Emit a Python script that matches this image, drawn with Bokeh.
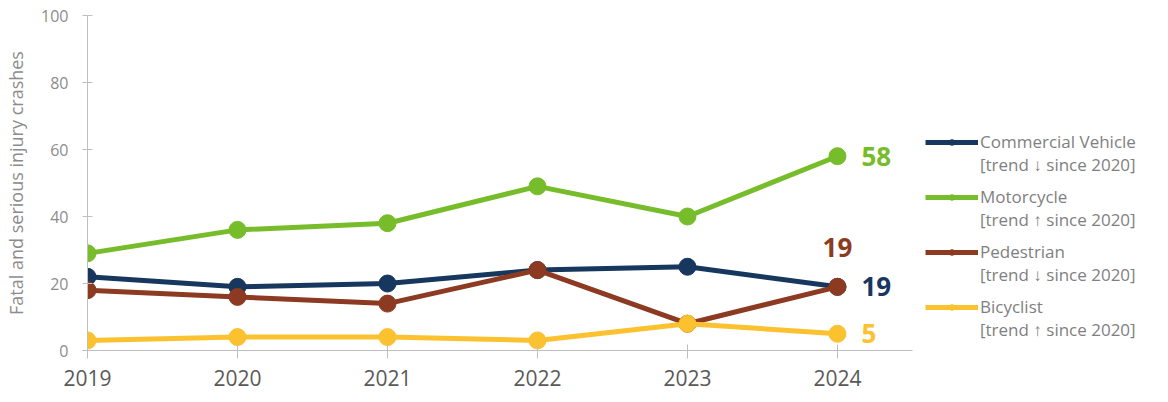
from bokeh.plotting import figure
from bokeh.models import Legend, LegendItem, Range1d, FixedTicker, ColumnDataSource
from bokeh.core.properties import value
from bokeh.embed import file_html
from bokeh.resources import INLINE

years = [2019, 2020, 2021, 2022, 2023, 2024]
commercial = [22, 19, 20, 24, 25, 19]
motorcycle = [29, 36, 38, 49, 40, 58]
pedestrian = [18, 16, 14, 24, 8, 19]
bicyclist = [3, 4, 4, 3, 8, 5]

series_names = ["Commercial Vehicle", "Motorcycle", "Pedestrian", "Bicyclist"]
trend_notes = ["[trend \u2193 since 2020]", "[trend \u2191 since 2020]",
               "[trend \u2193 since 2020]", "[trend \u2191 since 2020]"]
colors = ["#17375e", "#77bc2a", "#8c3a22", "#fbc12f"]
y_ticks = [0, 20, 40, 60, 80, 100]

FONT = "Open Sans"

# frame spans the plot and the legend area; the x axis line is bounded to the data part
p = figure(frame_width=1063, frame_height=335, output_backend="svg", toolbar_location=None,
           x_range=Range1d(2019, 2026.087), y_range=Range1d(0, 100),
           min_border_left=87, min_border_top=15, min_border_bottom=10, min_border_right=0)
p.outline_line_color = None
p.grid.grid_line_color = None
p.background_fill_color = "white"

series = [commercial, motorcycle, pedestrian, bicyclist]
legend_bottoms = [174, 119, 64, 9]
for name, note, vals, col, lb in zip(series_names, trend_notes, series, colors, legend_bottoms):
    src = ColumnDataSource(dict(x=years, y=vals))
    ln = p.line("x", "y", source=src, line_color=col, line_width=5)
    small = p.scatter("x", "y", source=src, size=9, fill_color=col, line_color=col)
    p.scatter("x", "y", source=src, size=17, fill_color=col, line_color=col)
    blank = p.line("x", "y", source=src, line_alpha=0)
    lg = Legend(items=[LegendItem(label=name, renderers=[ln, small]),
                       LegendItem(label=note, renderers=[blank])],
                location=(838, lb), orientation="vertical")
    lg.border_line_color = None
    lg.background_fill_alpha = 0
    lg.label_text_font = FONT
    lg.label_text_font_size = "17px"
    lg.label_text_color = "#7f7f7f"
    lg.label_height = 14
    lg.glyph_width = 53
    lg.glyph_height = 14
    lg.spacing = 0
    lg.padding = 0
    lg.margin = 0
    lg.label_standoff = 2
    p.add_layout(lg)

# end labels
lab_font = value(FONT)
common = dict(text_font=lab_font, text_font_size="26px", text_font_style="bold",
              text_baseline="middle")
p.text(x=[years[-1]], y=[motorcycle[-1]], text=[str(motorcycle[-1])], x_offset=24,
       text_color=colors[1], text_align="left", **common)
p.text(x=[years[-1]], y=[commercial[-1]], text=[str(commercial[-1])], x_offset=24,
       text_color=colors[0], text_align="left", **common)
p.text(x=[years[-1]], y=[pedestrian[-1]], text=[str(pedestrian[-1])], y_offset=-39,
       text_color=colors[2], text_align="center", **common)
p.text(x=[years[-1]], y=[bicyclist[-1]], text=[str(bicyclist[-1])], x_offset=24,
       text_color=colors[3], text_align="left", **common)

# axes
p.xaxis.ticker = FixedTicker(ticks=years)
p.xaxis.bounds = (2019, 2024.5)
p.yaxis.ticker = FixedTicker(ticks=y_ticks)
for ax in (p.xaxis, p.yaxis):
    ax.axis_line_color = "#bfbfbf"
    ax.major_tick_line_color = "#bfbfbf"
    ax.minor_tick_line_color = None
    ax.major_label_text_font = FONT
p.xaxis.major_tick_in = 6
p.xaxis.major_tick_out = 8
p.xaxis.major_label_text_font_size = "21px"
p.xaxis.major_label_text_color = "#595959"
p.xaxis.major_label_standoff = 11
p.yaxis.major_tick_in = 5
p.yaxis.major_tick_out = 5
p.yaxis.major_label_text_font_size = "16px"
p.yaxis.major_label_text_color = "#8c8c8c"
p.yaxis.major_label_standoff = 14
p.yaxis.axis_label = "Fatal and serious injury crashes"
p.yaxis.axis_label_text_font = FONT
p.yaxis.axis_label_text_font_size = "18px"
p.yaxis.axis_label_text_font_style = "normal"
p.yaxis.axis_label_text_color = "#8c8c8c"
p.yaxis.axis_label_standoff = 10

open("out.html", "w").write(file_html(p, INLINE))
